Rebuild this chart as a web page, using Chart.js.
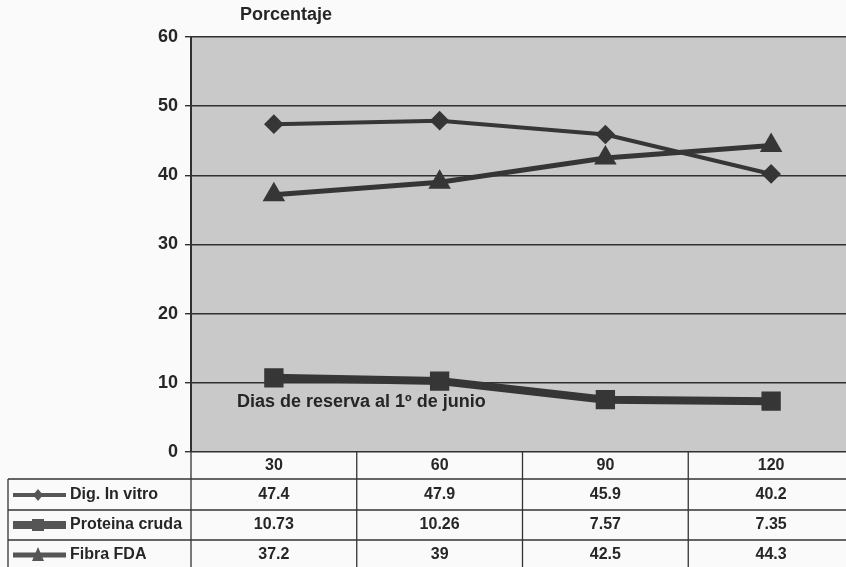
<!DOCTYPE html>
<html>
<head>
<meta charset="utf-8">
<script src="https://cdn.jsdelivr.net/npm/chart.js@4.4.1/dist/chart.umd.min.js"></script>
<style>
  html, body { margin: 0; padding: 0; background: #fafafa; overflow: hidden; }
  #wrap { width: 846px; height: 567px; overflow: hidden; }
</style>
</head>
<body>
<div id="wrap"><canvas id="chart" width="854" height="567"></canvas></div>
<script>
const dias = ["30", "60", "90", "120"];
const digInVitro = [47.4, 47.9, 45.9, 40.2];
const proteinaCruda = [10.73, 10.26, 7.57, 7.35];
const fibraFDA = [37.2, 39, 42.5, 44.3];
const yTicks = [0, 10, 20, 30, 40, 50, 60];

const ink = "#363636";
const font = "'Liberation Sans', Arial, sans-serif";

// gray plot background + title + axis note
const plotDecor = {
  id: "plotDecor",
  beforeDraw(chart) {
    const { ctx, chartArea: a } = chart;
    ctx.save();
    ctx.fillStyle = "#c9c9c9";
    ctx.fillRect(a.left, a.top, a.right - a.left, a.bottom - a.top);
    ctx.restore();
  },
  afterDatasetsDraw(chart) {
    const { ctx } = chart;
    ctx.save();
    ctx.fillStyle = "#262626";
    ctx.font = "bold 18px " + font;
    ctx.textBaseline = "middle";
    ctx.fillText("Porcentaje", 240, 15);
    ctx.fillText("Dias de reserva al 1º de junio", 237, 402);
    ctx.restore();
  },
};

// data table under the chart
const dataTable = {
  id: "dataTable",
  afterDraw(chart) {
    const { ctx, chartArea: a } = chart;
    const x = chart.scales.x;
    const rows = [
      { label: "Dig. In vitro", values: digInVitro, idx: 0 },
      { label: "Proteina cruda", values: proteinaCruda, idx: 1 },
      { label: "Fibra FDA", values: fibraFDA, idx: 2 },
    ];
    const rowY = [495, 525, 555];
    const lines = [479, 510, 540];
    const colW = (a.right - a.left) / dias.length;
    ctx.save();
    ctx.strokeStyle = "#333";
    ctx.lineWidth = 1.3;
    lines.forEach((y) => {
      ctx.beginPath();
      ctx.moveTo(8, y);
      ctx.lineTo(a.right, y);
      ctx.stroke();
    });
    ctx.beginPath();
    ctx.moveTo(8, 479);
    ctx.lineTo(8, 567);
    ctx.stroke();
    for (let i = 0; i <= dias.length; i++) {
      const vx = a.left + i * colW;
      ctx.beginPath();
      ctx.moveTo(vx, a.bottom);
      ctx.lineTo(vx, 567);
      ctx.stroke();
    }
    ctx.fillStyle = "#262626";
    ctx.font = "bold 16px " + font;
    ctx.textAlign = "center";
    ctx.textBaseline = "middle";
    dias.forEach((d, i) => ctx.fillText(d, x.getPixelForValue(i), 466));
    rows.forEach((r, k) => {
      const y = rowY[k];
      r.values.forEach((v, i) => ctx.fillText(String(v), x.getPixelForValue(i), y));
      // legend key
      const ds = chart.data.datasets[r.idx];
      ctx.save();
      ctx.strokeStyle = "#555";
      ctx.lineWidth = ds.borderWidth;
      ctx.beginPath();
      ctx.moveTo(13, y);
      ctx.lineTo(66, y);
      ctx.stroke();
      ctx.fillStyle = "#555";
      const cx = 38;
      ctx.beginPath();
      if (ds.pointStyle === "rectRot") {
        ctx.moveTo(cx, y - 6); ctx.lineTo(cx + 5, y);
        ctx.lineTo(cx, y + 6); ctx.lineTo(cx - 5, y);
      } else if (ds.pointStyle === "rect") {
        ctx.rect(cx - 6, y - 6, 12, 12);
      } else {
        ctx.moveTo(cx, y - 8); ctx.lineTo(cx + 6, y + 6);
        ctx.lineTo(cx - 6, y + 6);
      }
      ctx.closePath();
      ctx.fill();
      ctx.restore();
      ctx.textAlign = "left";
      ctx.fillText(r.label, 70, y);
      ctx.textAlign = "center";
    });
    ctx.restore();
  },
};

new Chart(document.getElementById("chart"), {
  type: "line",
  data: {
    labels: dias,
    datasets: [
      {
        label: "Dig. In vitro",
        data: digInVitro,
        borderColor: ink,
        backgroundColor: ink,
        borderWidth: 4,
        pointStyle: "rectRot",
        pointRadius: 7,
      },
      {
        label: "Proteina cruda",
        data: proteinaCruda,
        borderColor: ink,
        backgroundColor: ink,
        borderWidth: 8,
        pointStyle: "rect",
        pointRadius: 8,
      },
      {
        label: "Fibra FDA",
        data: fibraFDA,
        borderColor: ink,
        backgroundColor: ink,
        borderWidth: 5,
        pointStyle: "triangle",
        pointRadius: 8,
      },
    ],
  },
  options: {
    responsive: false,
    animation: false,
    layout: { autoPadding: false, padding: { top: 37, right: 0, left: 0, bottom: 0 } },
    plugins: {
      legend: { display: false },
      tooltip: { enabled: false },
    },
    scales: {
      x: {
        offset: true,
        ticks: { display: false },
        grid: { display: false },
        border: { display: false },
        afterFit: (s) => { s.height = 115; },
      },
      y: {
        min: 0,
        max: 60,
        afterBuildTicks: (s) => { s.ticks = yTicks.map((v) => ({ value: v })); },
        ticks: {
          color: "#262626",
          font: { family: font, size: 18, weight: "bold" },
          padding: 7,
        },
        grid: { color: "#303030", lineWidth: 1.4, tickLength: 6 },
        border: { color: "#303030", width: 2 },
        afterFit: (s) => { s.width = 191; },
      },
    },
  },
  plugins: [plotDecor, dataTable],
});
</script>
</body>
</html>
